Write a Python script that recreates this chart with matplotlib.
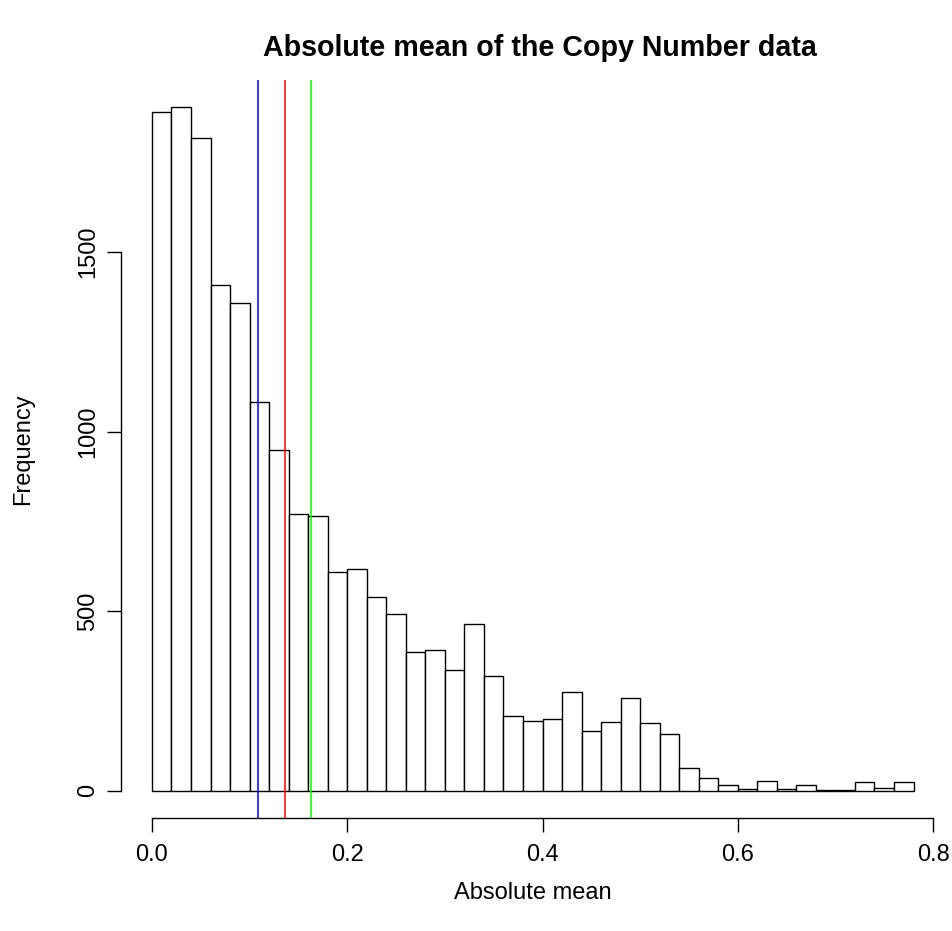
import matplotlib
matplotlib.use('Agg')

import numpy as np
import matplotlib.pyplot as plt

# Histogram bins (width 0.02) and counts
bin_edges = np.round(np.arange(0, 0.78 + 0.001, 0.02), 2)
counts = [1892, 1905, 1819, 1408, 1359, 1082, 950, 770, 764, 609,
          617, 539, 493, 385, 393, 335, 464, 319, 209, 195,
          200, 276, 167, 190, 257, 189, 159, 62, 34, 16,
          5, 28, 5, 15, 1, 2, 25, 8, 23]

# Vertical reference lines (blue, red, green)
vlines = [0.1086, 0.1358, 0.1632]
vline_colors = ['#0000FF', '#FF0000', '#00FF00']

x_ticks = [0.0, 0.2, 0.4, 0.6, 0.8]
y_ticks = [0, 500, 1000, 1500]

plt.rcParams['font.family'] = ['Liberation Sans', 'DejaVu Sans']

fig = plt.figure(figsize=(9.52, 9.31), dpi=100)
ax = fig.add_axes([121.5 / 952, 1 - 818 / 931, (944 - 121.5) / 952, (818 - 79.5) / 931])

# Bars, drawn like R's hist
ax.bar(bin_edges[:-1], counts, width=np.diff(bin_edges), align='edge',
       facecolor='white', edgecolor='black', linewidth=1.0)

for v, c in zip(vlines, vline_colors):
    ax.axvline(v, color=c, linewidth=1.1)

# R style axis limits: 4% extension
xmin, xmax = bin_edges[0], bin_edges[-1]
ymax = max(counts)
ax.set_xlim(xmin - 0.04 * (xmax - xmin), xmax + 0.04 * (xmax - xmin))
ax.set_ylim(-0.04 * ymax, ymax * 1.04)

for s in ['top', 'right']:
    ax.spines[s].set_visible(False)
ax.spines['bottom'].set_bounds(x_ticks[0], x_ticks[-1])
ax.spines['left'].set_bounds(y_ticks[0], y_ticks[-1])
ax.spines['bottom'].set_linewidth(1.0)
ax.spines['left'].set_linewidth(1.0)

ax.set_xticks(x_ticks)
ax.set_xticklabels(['%.1f' % t for t in x_ticks])
ax.set_yticks(y_ticks)
ax.set_yticklabels([str(t) for t in y_ticks], rotation=90, va='center')
ax.tick_params(axis='both', direction='out', length=10, width=1.0,
               labelsize=17)
ax.tick_params(axis='x', pad=9)
ax.tick_params(axis='y', pad=6)

ax.set_xlabel('Absolute mean', fontsize=17, labelpad=11)
ax.set_ylabel('Frequency', fontsize=17, labelpad=31)
fig.suptitle('Absolute mean of the Copy Number data', fontsize=20.6,
             fontweight='bold', y=1 - 48 / 931, va='center', x=(263 + 817) / 2 / 952)

fig.savefig('out.png', dpi=100)
plt.close()
